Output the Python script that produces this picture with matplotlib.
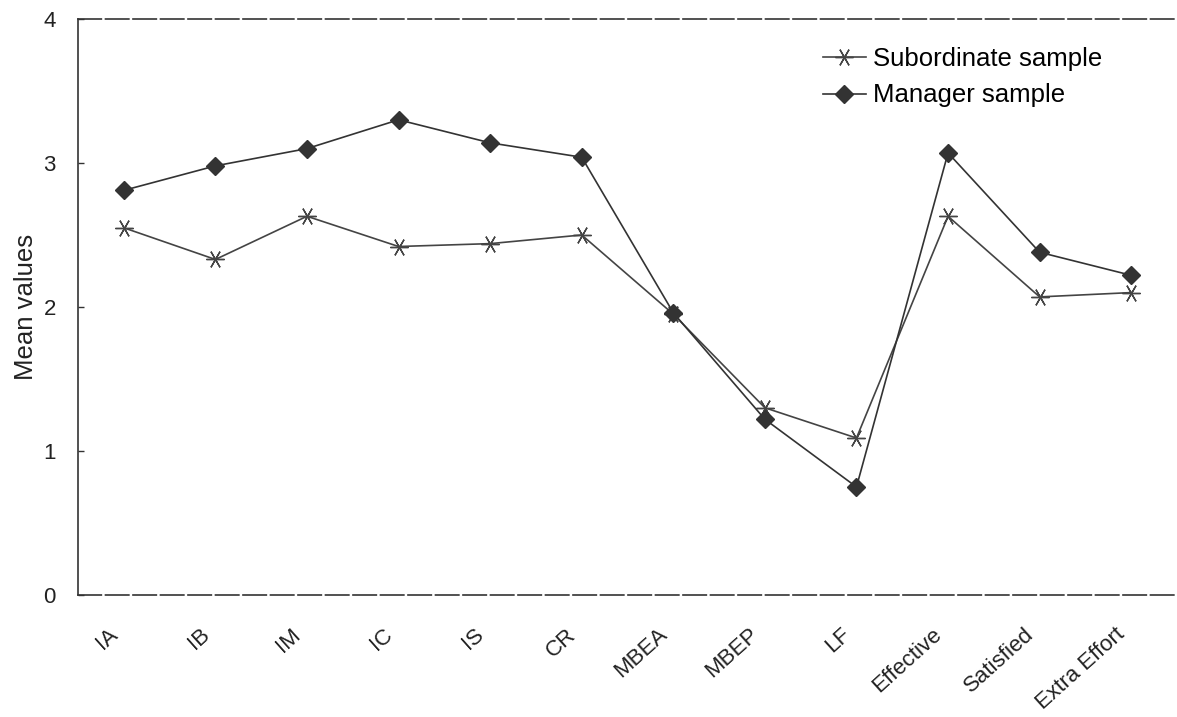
import matplotlib
matplotlib.use('Agg')
import matplotlib.pyplot as plt
import matplotlib.transforms as mtransforms
import numpy as np

plt.rcParams['font.family'] = ['Liberation Sans', 'DejaVu Sans']

categories = ["IA", "IB", "IM", "IC", "IS", "CR", "MBEA", "MBEP", "LF",
              "Effective", "Satisfied", "Extra Effort"]
subordinate = [2.55, 2.33, 2.63, 2.42, 2.44, 2.50, 1.95, 1.30, 1.09, 2.63, 2.07, 2.10]
manager = [2.81, 2.98, 3.10, 3.30, 3.14, 3.04, 1.96, 1.22, 0.75, 3.07, 2.38, 2.22]
yticks = [0, 1, 2, 3, 4]

INK = '#333333'
TXT = '#222222'

fig = plt.figure(figsize=(11.77, 7.17), dpi=100, facecolor='white')
ax = fig.add_axes([0.0663, 0.1702, 0.9337, 0.8033])

x = np.arange(len(categories)) + 0.5
ax.plot(x, subordinate, color='#444444', lw=1.2, marker=(6, 2, 30), ms=13,
        mew=1.0, label='Subordinate sample')
ax.plot(x, manager, color=INK, lw=1.2, marker='D', ms=9, mfc=INK, mec=INK,
        label='Manager sample')

ax.set_xlim(0, len(categories))
ax.set_ylim(0, 4)
ax.set_yticks(yticks)
ax.set_xticks(x)
ax.set_xticklabels(categories, rotation=42, ha='right', rotation_mode='anchor')
ax.tick_params(axis='x', length=0, labelsize=16, colors=TXT, pad=21)
ax.tick_params(axis='y', direction='in', length=4, width=1, color=INK,
               labelsize=16, labelcolor=TXT, pad=16)
ax.set_ylabel('Mean values', fontsize=18.5, color=TXT, labelpad=4)

# nudge the rotated category labels left, like the original
shift = mtransforms.ScaledTranslation(-16 / 100, 0, fig.dpi_scale_trans)
for lab in ax.get_xticklabels():
    lab.set_transform(lab.get_transform() + shift)

for side in ('top', 'bottom'):
    ax.spines[side].set_linestyle((0, (14, 2.5)))
    ax.spines[side].set_color(INK)
    ax.spines[side].set_linewidth(1.2)
ax.spines['left'].set_color(INK)
ax.spines['left'].set_linewidth(1.2)
ax.spines['right'].set_visible(False)

ax.legend(loc='upper left', bbox_to_anchor=(0.678, 0.952), frameon=False,
          fontsize=18.5, handlelength=1.65, handletextpad=0.28, labelspacing=0.5,
          borderpad=0, borderaxespad=0)

fig.savefig('out.png', dpi=100, facecolor='white')
